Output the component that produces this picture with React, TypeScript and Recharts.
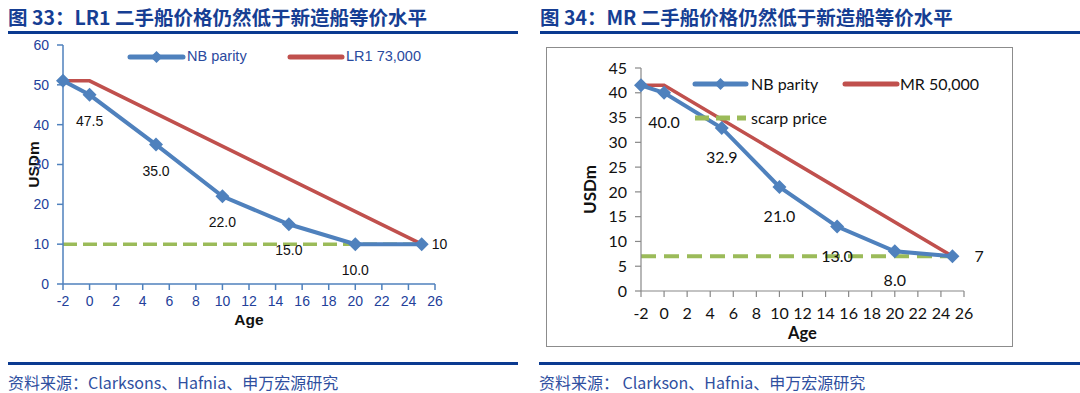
import React from 'react';
import { LineChart, Line, XAxis, YAxis, Legend, LabelList } from 'recharts';

const AGES = [-2, 0, 5, 10, 15, 20, 25];
const X_TICKS = [-2, 0, 2, 4, 6, 8, 10, 12, 14, 16, 18, 20, 22, 24, 26];

// LR1 panel
const LR1_NB = [51, 47.5, 35, 22, 15, 10, 10];
const LR1_NEWBUILD = [51, 51, null, null, null, null, 10];
const LR1_SCRAP = [10, null, null, null, null, null, 10];
const LR1_Y_TICKS = [0, 10, 20, 30, 40, 50, 60];

// MR panel
const MR_NB = [41.5, 40, 32.9, 21, 13, 8, 7];
const MR_NEWBUILD = [41.5, 41.5, null, null, null, null, 7];
const MR_SCRAP = [7, null, null, null, null, null, 7];
const MR_Y_TICKS = [0, 5, 10, 15, 20, 25, 30, 35, 40, 45];

const BLUE = '#4F81BD';
const RED = '#C0504D';
const GREEN = '#9BBB59';
const NAVY = '#163E93';

const lr1Data = AGES.map((age, i) => ({ age, nb: LR1_NB[i], nw: LR1_NEWBUILD[i], scrap: LR1_SCRAP[i] }));
const mrData = AGES.map((age, i) => ({ age, nb: MR_NB[i], nw: MR_NEWBUILD[i], scrap: MR_SCRAP[i] }));

const Diamond = (r: number) => (props: any) => {
  const { cx, cy, index } = props;
  if (cx == null || cy == null) return <g key={index} />;
  return (
    <polygon
      key={index}
      points={`${cx},${cy - r} ${cx + r},${cy} ${cx},${cy + r} ${cx - r},${cy}`}
      fill={BLUE}
    />
  );
};

const nbLabel = (font: string, size: number, dy: number) => (props: any) => {
  const { x, y, value, index } = props;
  if (index === 0 || index === AGES.length - 1 || value == null) return null;
  return (
    <text x={x} y={y + dy} textAnchor="middle" fontFamily={font} fontSize={size} fill="#111">
      {Number(value).toFixed(1)}
    </text>
  );
};

const endLabel = (font: string, size: number, dx: number) => (props: any) => {
  const { x, y, value, index } = props;
  if (index !== AGES.length - 1 || value == null) return null;
  return (
    <text x={x + dx} y={y + size * 0.35} fontFamily={font} fontSize={size} fill="#111">
      {value}
    </text>
  );
};

const seg = (x: number, y: number, w: number, color: string, width: number, dash?: string, diamond?: boolean) => (
  <svg style={{ position: 'absolute', left: x, top: y - 8, overflow: 'visible' }} width={w} height={16}>
    <line x1={2} y1={8} x2={w - 2} y2={8} stroke={color} strokeWidth={width} strokeLinecap={dash ? 'butt' : 'round'} strokeDasharray={dash} />
    {diamond && <polygon points={`${w / 2},2 ${w / 2 + 6},8 ${w / 2},14 ${w / 2 - 6},8`} fill={BLUE} />}
  </svg>
);

const LR1Legend = () => (
  <div style={{ position: 'relative', width: 540, height: 30, fontFamily: 'Liberation Sans, Arial', fontSize: 14.5, color: '#2A4A9E' }}>
    {seg(128, 57, 57, BLUE, 5, undefined, true)}
    <span style={{ position: 'absolute', left: 187, top: 48 }}>NB parity</span>
    {seg(288, 57, 56, RED, 5)}
    <span style={{ position: 'absolute', left: 346, top: 48 }}>LR1 73,000</span>
  </div>
);

const MRLegend = () => (
  <div style={{ position: 'relative', width: 540, height: 30, fontFamily: 'Lato, Open Sans', fontSize: 16, color: '#111' }}>
    {seg(153, 84, 55, BLUE, 5, undefined, true)}
    <span style={{ position: 'absolute', left: 211, top: 74 }}>NB parity</span>
    {seg(303, 84, 56, RED, 5)}
    <span style={{ position: 'absolute', left: 360, top: 74 }}>MR 50,000</span>
    {seg(153, 118, 55, GREEN, 5, '14 7')}
    <span style={{ position: 'absolute', left: 211, top: 108 }}>scarp price</span>
  </div>
);

const Title = ({ left, width, text }: { left: number; width: number; text: string }) => (
  <>
    <div style={{ position: 'absolute', left, top: 5, fontFamily: 'Noto Sans CJK SC', fontWeight: 700, fontSize: 19.5, color: NAVY, whiteSpace: 'nowrap', lineHeight: '24px' }}>
      {text}
    </div>
    <div style={{ position: 'absolute', left, top: 31, width, height: 3, background: '#0B3A90' }} />
  </>
);

const Footer = ({ left, width, text }: { left: number; width: number; text: string }) => (
  <>
    <div style={{ position: 'absolute', left, top: 362, width, height: 3, background: '#0B3A90' }} />
    <div style={{ position: 'absolute', left, top: 372, fontFamily: 'Noto Sans CJK SC', fontSize: 16, color: '#2F4F9F', whiteSpace: 'nowrap', lineHeight: '20px' }}>
      {text}
    </div>
  </>
);

export default function App() {
  const lr1Tick = { fill: '#23409A', fontSize: 14, fontFamily: 'Liberation Sans, Arial' };
  const mrTick = { fill: '#111', fontSize: 16, fontFamily: 'Lato, Open Sans' };
  return (
    <div style={{ position: 'absolute', left: 0, top: 0, width: 1080, height: 393, background: '#fff', overflow: 'hidden' }}>
      <Title left={8} width={510} text="图 33：LR1 二手船价格仍然低于新造船等价水平" />
      <Title left={540} width={540} text="图 34：MR 二手船价格仍然低于新造船等价水平" />

      <div style={{ position: 'absolute', left: 0, top: 0 }}>
        <LineChart width={540} height={340} data={lr1Data} margin={{ top: 45, right: 105, bottom: 26, left: 23 }}>
          <XAxis
            dataKey="age"
            type="number"
            domain={[-2, 26]}
            ticks={X_TICKS}
            interval={0}
            tick={lr1Tick}
            stroke={BLUE}
            strokeWidth={1.5}
            tickSize={6}
            tickMargin={6}
            height={30}
            label={(p: any) => (
              <text x={p.viewBox.x + p.viewBox.width / 2} y={p.viewBox.y + 41} textAnchor="middle" fontFamily="Liberation Sans, Arial" fontWeight={700} fontSize={15.5} fill="#111">Age</text>
            )}
          />
          <YAxis
            type="number"
            domain={[0, 60]}
            ticks={LR1_Y_TICKS}
            interval={0}
            tick={lr1Tick}
            stroke={BLUE}
            strokeWidth={1.5}
            tickSize={6}
            tickMargin={8}
            width={40}
            label={(p: any) => (
              <text transform={`translate(${p.viewBox.x + 16},${p.viewBox.y + p.viewBox.height / 2}) rotate(-90)`} textAnchor="middle" fontFamily="Liberation Sans, Arial" fontWeight={700} fontSize={15.5} fill="#111">USDm</text>
            )}
          />
          <Legend content={() => <LR1Legend />} wrapperStyle={{ position: 'absolute', left: 0, top: 0, width: 540, height: 0 }} />
          <Line dataKey="scrap" stroke={GREEN} strokeWidth={3.5} strokeDasharray="14 6" dot={false} connectNulls isAnimationActive={false}>
            <LabelList dataKey="scrap" content={endLabel('Liberation Sans, Arial', 14, 10)} />
          </Line>
          <Line dataKey="nw" stroke={RED} strokeWidth={3.5} dot={false} connectNulls isAnimationActive={false} />
          <Line dataKey="nb" stroke={BLUE} strokeWidth={4} dot={Diamond(7)} activeDot={false} isAnimationActive={false}>
            <LabelList dataKey="nb" content={nbLabel('Liberation Sans, Arial', 14, 31)} />
          </Line>
        </LineChart>
      </div>

      <div style={{ position: 'absolute', left: 546, top: 47, width: 465, height: 298, border: '1px solid #8c8c8c' }} />

      <div style={{ position: 'absolute', left: 540, top: 0 }}>
        <LineChart width={540} height={360} data={mrData} margin={{ top: 68, right: 116, bottom: 39, left: 61 }}>
          <XAxis
            dataKey="age"
            type="number"
            domain={[-2, 26]}
            ticks={X_TICKS}
            interval={0}
            tick={mrTick}
            stroke="#888"
            strokeWidth={1.2}
            tickSize={6}
            tickMargin={11}
            height={30}
            label={(p: any) => (
              <text x={p.viewBox.x + p.viewBox.width / 2} y={p.viewBox.y + 48} textAnchor="middle" fontFamily="Lato, Open Sans" fontWeight={700} fontSize={16.5} fill="#111">Age</text>
            )}
          />
          <YAxis
            type="number"
            domain={[0, 45]}
            ticks={MR_Y_TICKS}
            interval={0}
            tick={mrTick}
            stroke="#888"
            strokeWidth={1.2}
            tickSize={6}
            tickMargin={8}
            width={40}
            label={(p: any) => (
              <text transform={`translate(${p.viewBox.x - 5},${p.viewBox.y + p.viewBox.height / 2 + 10}) rotate(-90)`} textAnchor="middle" fontFamily="Lato, Open Sans" fontWeight={700} fontSize={17} fill="#111">USDm</text>
            )}
          />
          <Legend content={() => <MRLegend />} wrapperStyle={{ position: 'absolute', left: 0, top: 0, width: 540, height: 0 }} />
          <Line dataKey="scrap" stroke={GREEN} strokeWidth={4} strokeDasharray="15 8" dot={false} connectNulls isAnimationActive={false}>
            <LabelList dataKey="scrap" content={endLabel('Lato, Open Sans', 16, 22)} />
          </Line>
          <Line dataKey="nw" stroke={RED} strokeWidth={3.5} dot={false} connectNulls isAnimationActive={false} />
          <Line dataKey="nb" stroke={BLUE} strokeWidth={4} dot={Diamond(7)} activeDot={false} isAnimationActive={false}>
            <LabelList dataKey="nb" content={nbLabel('Lato, Open Sans', 16, 35)} />
          </Line>
        </LineChart>
      </div>

      <Footer left={8} width={510} text="资料来源：Clarksons、Hafnia、申万宏源研究" />
      <Footer left={539} width={541} text="资料来源： Clarkson、Hafnia、申万宏源研究" />
    </div>
  );
}
